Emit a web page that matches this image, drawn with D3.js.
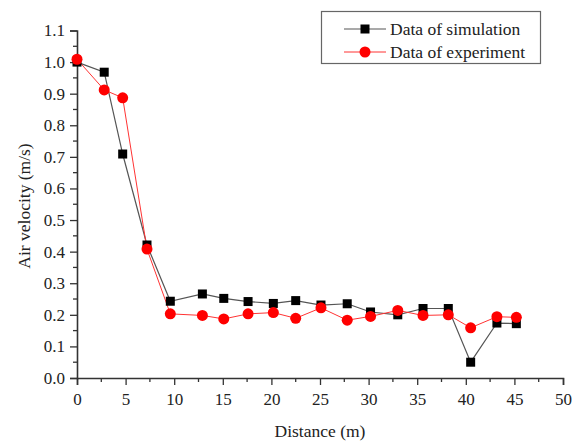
<!DOCTYPE html>
<html>
<head>
<meta charset="utf-8">
<script src="https://cdn.jsdelivr.net/npm/d3@7"></script>
<style>
  html, body { margin: 0; padding: 0; background: #fff; }
  svg { display: block; }
  text { font-family: "Liberation Serif", "Times New Roman", serif; fill: #222; }
</style>
</head>
<body>
<div id="chart"></div>
<script>
// Air velocity along the distance: simulated vs measured
const distSim = [0, 2.8, 4.7, 7.2, 9.6, 12.9, 15.1, 17.6, 20.2, 22.5, 25.1, 27.8, 30.2, 33.0, 35.6, 38.2, 40.5, 43.2, 45.2];
const velSim  = [1.0, 0.968, 0.709, 0.421, 0.243, 0.266, 0.252, 0.242, 0.236, 0.245, 0.231, 0.235, 0.209, 0.200, 0.220, 0.220, 0.050, 0.174, 0.172];

const distExp = [0, 2.8, 4.7, 7.2, 9.6, 12.9, 15.1, 17.6, 20.2, 22.5, 25.1, 27.8, 30.2, 33.0, 35.6, 38.2, 40.5, 43.2, 45.2];
const velExp  = [1.009, 0.912, 0.887, 0.408, 0.203, 0.198, 0.187, 0.203, 0.207, 0.189, 0.222, 0.183, 0.195, 0.214, 0.198, 0.200, 0.159, 0.194, 0.192];

const xTicks = [0, 5, 10, 15, 20, 25, 30, 35, 40, 45, 50];
const yTicks = [0.0, 0.1, 0.2, 0.3, 0.4, 0.5, 0.6, 0.7, 0.8, 0.9, 1.0, 1.1];
const legendLabels = ["Data of simulation", "Data of experiment"];

const W = 574, H = 444;
const svg = d3.select("#chart").append("svg").attr("width", W).attr("height", H);

const x = d3.scaleLinear().domain([0, 50]).range([77, 563]);
const y = d3.scaleLinear().domain([0, 1.1]).range([378, 30.5]);

const axisColor = "#333";
const fontFam = "Liberation Serif, Times New Roman, serif";

// minor ticks halfway between the labelled ones
const xMinor = d3.range(2.5, 50, 5);
const yMinor = d3.range(0.05, 1.1, 0.1);

const gx = svg.append("g").attr("transform", `translate(0,${y(0)})`);
gx.call(d3.axisBottom(x).tickValues(xTicks).tickFormat(d3.format("d")).tickSize(7).tickPadding(8));
gx.append("g").selectAll("line").data(xMinor).join("line")
  .attr("x1", d => x(d)).attr("x2", d => x(d)).attr("y1", 0).attr("y2", 4)
  .attr("stroke", axisColor).attr("stroke-width", 1.3);

const gy = svg.append("g").attr("transform", `translate(${x(0)},0)`);
gy.call(d3.axisLeft(y).tickValues(yTicks).tickFormat(d3.format(".1f")).tickSize(7).tickPadding(5));
gy.append("g").selectAll("line").data(yMinor).join("line")
  .attr("y1", d => y(d)).attr("y2", d => y(d)).attr("x1", 0).attr("x2", -4)
  .attr("stroke", axisColor).attr("stroke-width", 1.3);

[gx, gy].forEach(g => {
  g.select(".domain").attr("stroke", axisColor).attr("stroke-width", 1.6);
  g.selectAll(".tick line").attr("stroke", axisColor).attr("stroke-width", 1.3);
  g.selectAll(".tick text").attr("font-family", fontFam)
    .attr("font-size", 17).attr("fill", "#222");
});

// axis titles
svg.append("text").attr("x", 320).attr("y", 437).attr("text-anchor", "middle")
  .attr("font-family", fontFam).attr("font-size", 17.5).text("Distance (m)");
svg.append("text").attr("transform", `translate(30,206) rotate(-90)`)
  .attr("text-anchor", "middle").attr("font-family", fontFam).attr("font-size", 17.5)
  .text("Air velocity (m/s)");

// series
const sim = distSim.map((d, i) => [d, velSim[i]]);
const exp = distExp.map((d, i) => [d, velExp[i]]);
const line = d3.line().x(d => x(d[0])).y(d => y(d[1]));

svg.append("path").datum(sim).attr("d", line).attr("fill", "none")
  .attr("stroke", "#555").attr("stroke-width", 1.2);
svg.append("path").datum(exp).attr("d", line).attr("fill", "none")
  .attr("stroke", "#ff3333").attr("stroke-width", 1);

const sq = 9;
svg.append("g").selectAll("rect").data(sim).join("rect")
  .attr("x", d => x(d[0]) - sq / 2).attr("y", d => y(d[1]) - sq / 2)
  .attr("width", sq).attr("height", sq).attr("fill", "#000");
svg.append("g").selectAll("circle").data(exp).join("circle")
  .attr("cx", d => x(d[0])).attr("cy", d => y(d[1])).attr("r", 5.5).attr("fill", "#ff0000");

// legend
const lg = svg.append("g");
lg.append("rect").attr("x", 321.5).attr("y", 11.5).attr("width", 219).attr("height", 52)
  .attr("fill", "#fff").attr("stroke", "#666").attr("stroke-width", 1.2);
const ly = [29, 52];
legendLabels.forEach((lab, i) => {
  lg.append("line").attr("x1", 344).attr("x2", 386).attr("y1", ly[i]).attr("y2", ly[i])
    .attr("stroke", i === 0 ? "#555" : "#ff3333").attr("stroke-width", i === 0 ? 1.2 : 1);
  if (i === 0) {
    lg.append("rect").attr("x", 365 - sq / 2).attr("y", ly[i] - sq / 2)
      .attr("width", sq).attr("height", sq).attr("fill", "#000");
  } else {
    lg.append("circle").attr("cx", 365).attr("cy", ly[i]).attr("r", 5.5).attr("fill", "#ff0000");
  }
  lg.append("text").attr("x", 390).attr("y", ly[i] + 6).attr("font-family", fontFam)
    .attr("font-size", 17.5).text(lab);
});
</script>
</body>
</html>
